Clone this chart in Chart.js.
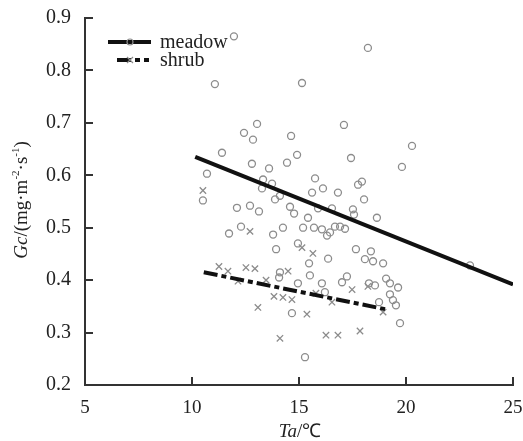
<!DOCTYPE html>
<html>
<head>
<meta charset="utf-8">
<script src="https://cdn.jsdelivr.net/npm/chart.js@4/dist/chart.umd.min.js"></script>
<style>
  html, body { margin: 0; padding: 0; background: #fff; }
  #wrap { width: 523px; height: 441px; }
</style>
</head>
<body>
<div id="wrap"><canvas id="gcChart"></canvas></div>
<script>
// meadow observations (air temperature, canopy conductance)
const meadowTa = [11.96, 11.07, 18.22, 15.14, 13.04, 12.43, 12.85, 14.63, 11.40, 10.70,
  12.80, 13.60, 14.44, 14.91, 13.32, 13.74, 13.27, 10.51, 17.10, 20.28,
  17.43, 19.81, 15.75, 16.12, 15.61, 16.82, 17.76, 17.94, 18.04, 13.88,
  14.11, 14.58, 14.77, 15.42, 15.89, 16.54, 17.52, 17.57, 18.64, 12.10,
  12.71, 13.13, 11.73, 12.29, 13.79, 14.25, 15.19, 15.70, 16.07, 16.31,
  16.45, 16.68, 16.92, 17.15, 13.93, 14.95, 17.66, 18.08, 18.36, 18.46,
  18.93, 16.36, 15.47, 14.11, 14.07, 15.51, 17.24, 17.01, 18.27, 18.55,
  19.07, 19.25, 19.63, 16.07, 14.95, 16.21, 18.74, 19.25, 19.39, 19.53,
  14.67, 19.72, 15.28, 22.99];
const meadowGc = [0.865, 0.774, 0.843, 0.776, 0.698, 0.681, 0.668, 0.675, 0.643, 0.603,
  0.622, 0.613, 0.624, 0.639, 0.592, 0.584, 0.575, 0.552, 0.696, 0.656,
  0.633, 0.616, 0.594, 0.575, 0.567, 0.567, 0.582, 0.588, 0.554, 0.554,
  0.561, 0.540, 0.527, 0.519, 0.537, 0.537, 0.535, 0.525, 0.519, 0.538,
  0.542, 0.531, 0.489, 0.502, 0.487, 0.500, 0.500, 0.500, 0.497, 0.485,
  0.491, 0.502, 0.502, 0.498, 0.459, 0.470, 0.459, 0.440, 0.455, 0.436,
  0.432, 0.441, 0.432, 0.415, 0.405, 0.409, 0.407, 0.396, 0.394, 0.390,
  0.403, 0.394, 0.386, 0.394, 0.394, 0.377, 0.358, 0.373, 0.362, 0.352,
  0.337, 0.318, 0.253, 0.428];

// shrub observations
const shrubTa = [10.51, 12.71, 15.14, 15.65, 11.26, 11.68, 12.52, 12.94, 12.15, 13.46,
  14.49, 17.48, 18.22, 15.79, 16.54, 13.83, 14.25, 14.67, 13.08, 18.93,
  15.37, 16.26, 16.82, 17.85, 14.11];
const shrubGc = [0.571, 0.493, 0.462, 0.451, 0.426, 0.417, 0.424, 0.422, 0.398, 0.400,
  0.417, 0.382, 0.388, 0.375, 0.358, 0.369, 0.367, 0.363, 0.348, 0.339,
  0.335, 0.295, 0.295, 0.303, 0.289];

// fitted regression lines (end points)
const meadowFitTa = [10.15, 25];
const meadowFitGc = [0.635, 0.392];
const shrubFitTa = [10.55, 19.1];
const shrubFitGc = [0.415, 0.344];

const xTicks = [5, 10, 15, 20, 25];
const yTicks = [0.2, 0.3, 0.4, 0.5, 0.6, 0.7, 0.8, 0.9];

const SERIF = "'Liberation Serif', 'Times New Roman', serif";
const toPoints = (xs, ys) => xs.map((x, i) => ({ x: x, y: ys[i] }));

// inward ticks, axis titles and the legend box
const decorations = {
  id: "decorations",
  afterDraw(chart) {
    const { ctx, scales: { x, y } } = chart;
    ctx.save();
    ctx.strokeStyle = "#333";
    ctx.lineWidth = 2;
    yTicks.forEach((v) => {
      const py = Math.round(y.getPixelForValue(v));
      ctx.beginPath();
      ctx.moveTo(x.left, py);
      ctx.lineTo(x.left + 8, py);
      ctx.stroke();
    });
    xTicks.forEach((v) => {
      const px = Math.round(x.getPixelForValue(v));
      ctx.beginPath();
      ctx.moveTo(px, y.bottom);
      ctx.lineTo(px, y.bottom - 8);
      ctx.stroke();
    });

    // x title: Ta/℃
    ctx.fillStyle = "#222";
    ctx.textBaseline = "alphabetic";
    drawRuns(ctx, [
      { t: "Ta", italic: true },
      { t: "/℃" },
    ], 300, 437, 19);

    // y title: Gc/(mg·m-2·s-1)
    ctx.save();
    ctx.translate(27, 200);
    ctx.rotate(-Math.PI / 2);
    drawRuns(ctx, [
      { t: "Gc", italic: true },
      { t: "/(mg·m" },
      { t: "-2", sup: true },
      { t: "·s" },
      { t: "-1", sup: true },
      { t: ")" },
    ], 0, 0, 19);
    ctx.restore();

    // legend
    ctx.lineWidth = 4;
    ctx.strokeStyle = "#111";
    ctx.beginPath();
    ctx.moveTo(108, 42);
    ctx.lineTo(151, 42);
    ctx.stroke();
    ctx.setLineDash([14, 4, 5, 4]);
    ctx.beginPath();
    ctx.moveTo(117, 60);
    ctx.lineTo(149, 60);
    ctx.stroke();
    ctx.setLineDash([]);

    ctx.lineWidth = 1.2;
    ctx.strokeStyle = "#8c8c8c";
    ctx.beginPath();
    ctx.arc(130, 42, 3, 0, Math.PI * 2);
    ctx.stroke();
    ctx.beginPath();
    ctx.moveTo(127, 57);
    ctx.lineTo(133, 63);
    ctx.moveTo(133, 57);
    ctx.lineTo(127, 63);
    ctx.stroke();

    ctx.fillStyle = "#222";
    ctx.font = "20px " + SERIF;
    ctx.textAlign = "left";
    ctx.fillText("meadow", 160, 48);
    ctx.fillText("shrub", 160, 66);
    ctx.restore();
  },
};

function drawRuns(ctx, runs, cx, baseY, size) {
  const fontOf = (r) => (r.italic ? "italic " : "") + (r.sup ? Math.round(size * 0.6) : size) + "px " + SERIF;
  let total = 0;
  runs.forEach((r) => {
    ctx.font = fontOf(r);
    r.w = ctx.measureText(r.t).width;
    total += r.w;
  });
  let px = cx - total / 2;
  ctx.textAlign = "left";
  runs.forEach((r) => {
    ctx.font = fontOf(r);
    ctx.fillText(r.t, px, r.sup ? baseY - size * 0.42 : baseY);
    px += r.w;
  });
}

new Chart(document.getElementById("gcChart"), {
  type: "scatter",
  data: {
    datasets: [
      {
        label: "meadow fit",
        type: "line",
        data: toPoints(meadowFitTa, meadowFitGc),
        borderColor: "#111",
        borderWidth: 4,
        pointRadius: 0,
        fill: false,
        order: 0,
      },
      {
        label: "shrub fit",
        type: "line",
        data: toPoints(shrubFitTa, shrubFitGc),
        borderColor: "#111",
        borderWidth: 4,
        borderDash: [14, 4, 5, 4],
        pointRadius: 0,
        fill: false,
        order: 1,
      },
      {
        label: "meadow",
        data: toPoints(meadowTa, meadowGc),
        pointStyle: "circle",
        pointRadius: 3.5,
        borderColor: "#8c8c8c",
        backgroundColor: "rgba(0,0,0,0)",
        borderWidth: 1.3,
        order: 2,
      },
      {
        label: "shrub",
        data: toPoints(shrubTa, shrubGc),
        pointStyle: "crossRot",
        pointRadius: 4.5,
        borderColor: "#8c8c8c",
        borderWidth: 1.3,
        order: 3,
      },
    ],
  },
  options: {
    responsive: true,
    maintainAspectRatio: false,
    animation: false,
    layout: { padding: { top: 17, right: 10, left: 0, bottom: 0 } },
    plugins: {
      legend: { display: false },
      tooltip: { enabled: false },
    },
    scales: {
      x: {
        type: "linear",
        min: 5,
        max: 25,
        afterBuildTicks: (scale) => { scale.ticks = xTicks.map((v) => ({ value: v })); },
        afterFit: (scale) => {
          scale.height = 56;
          scale.paddingRight = 0;
        },
        grid: { display: false },
        border: { display: true, color: "#333", width: 2 },
        ticks: {
          color: "#222",
          padding: 4,
          maxRotation: 0,
          font: { family: SERIF, size: 19 },
        },
      },
      y: {
        min: 0.2,
        max: 0.9,
        afterBuildTicks: (scale) => { scale.ticks = yTicks.map((v) => ({ value: v })); },
        afterFit: (scale) => { scale.width = 85; },
        grid: { display: false },
        border: { display: true, color: "#333", width: 2 },
        ticks: {
          color: "#222",
          padding: 6,
          font: { family: SERIF, size: 20 },
          callback: (v) => v.toFixed(1),
        },
      },
    },
  },
  plugins: [decorations],
});
</script>
</body>
</html>
